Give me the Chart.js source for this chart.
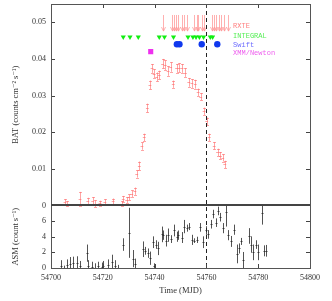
<!DOCTYPE html>
<html>
<head>
<meta charset="utf-8">
<script src="https://cdn.jsdelivr.net/npm/chart.js@4.4.1/dist/chart.umd.min.js"></script>
<style>
  html, body { margin: 0; padding: 0; background: #fff; }
  #wrap { width: 332px; height: 301px; }
</style>
</head>
<body>
<div id="wrap"><canvas id="lc" width="332" height="301"></canvas></div>
<script>
// BAT light curve (MJD, rate, error)
var batT = [54705.4, 54706.1, 54711.2, 54714.2, 54716.1, 54717.0, 54718.9, 54720.8, 54724.0, 54727.3,
            54727.9, 54729.2, 54730.2, 54731.2, 54732.4, 54733.1, 54734.1, 54735.1, 54736.0, 54737.2,
            54738.2, 54739.0, 54739.8, 54740.8, 54741.8, 54743.1, 54744.1, 54745.2, 54746.2, 54747.2,
            54748.5, 54749.5, 54750.6, 54751.9, 54753.2, 54754.4, 54755.7, 54756.8, 54757.8, 54759.1,
            54760.1, 54761.1, 54763.0, 54764.3, 54765.4, 54766.3, 54767.1];
var batV = [0.0009, 0.0005, 0.0018, 0.0012, 0.0012, 0.0005, 0.0006, 0.0009, 0.0011, 0.0005,
            0.0018, 0.0015, 0.0022, 0.0032, 0.0039, 0.0086, 0.0108, 0.0162, 0.0186, 0.0266,
            0.0329, 0.0374, 0.0360, 0.0351, 0.0356, 0.0387, 0.0383, 0.0367, 0.0378, 0.0331,
            0.0374, 0.0376, 0.0374, 0.0363, 0.0336, 0.0333, 0.0331, 0.0309, 0.0297, 0.0257,
            0.0230, 0.0186, 0.0163, 0.0145, 0.0136, 0.0130, 0.0112];
var batE = [0.0008, 0.0007, 0.0019, 0.0009, 0.0011, 0.0009, 0.0007, 0.0008, 0.0008, 0.0007,
            0.0008, 0.0008, 0.0008, 0.0009, 0.0010, 0.0010, 0.0012, 0.0010, 0.0010, 0.0012,
            0.0012, 0.0012, 0.0012, 0.0012, 0.0012, 0.0013, 0.0013, 0.0013, 0.0013, 0.0010,
            0.0012, 0.0012, 0.0012, 0.0012, 0.0012, 0.0012, 0.0012, 0.0010, 0.0010, 0.0010,
            0.0010, 0.0010, 0.0010, 0.0010, 0.0010, 0.0010, 0.0010];

// ASM light curve
var asmT = [54703.8, 54705.0, 54706.3, 54707.3, 54708.6, 54710.2, 54711.2, 54713.8, 54714.4, 54715.7,
            54717.0, 54718.3, 54719.6, 54720.2, 54722.1, 54723.4, 54724.7, 54726.0, 54727.7, 54730.2,
            54731.5, 54732.4, 54735.6, 54736.3, 54737.3, 54738.2, 54739.5, 54739.9, 54740.4, 54741.4,
            54742.7, 54743.4, 54744.3, 54745.3, 54746.3, 54747.6, 54748.5, 54749.2, 54750.5, 54751.5,
            54752.4, 54753.3, 54754.3, 54755.3, 54756.3, 54757.5, 54758.6, 54759.7, 54760.5, 54761.8,
            54762.7, 54763.7, 54764.4, 54765.3, 54766.5, 54767.6, 54768.2, 54769.5, 54770.5, 54771.7,
            54772.5, 54773.4, 54774.3, 54776.6, 54777.2, 54778.1, 54779.2, 54779.8, 54781.5, 54782.4,
            54783.0];
var asmV = [0.3, 0.0, 0.4, 0.5, 0.6, 0.6, 0.2, 1.9, 0.3, 0.1,
            0.0, 0.2, 0.1, 0.3, 0.4, 0.8, 0.3, 0.0, 3.0, 4.5,
            1.2, 0.5, 2.4, 2.2, 1.9, 1.25, 3.3, 0.3, 3.0, 2.5,
            4.3, 4.2, 3.5, 4.2, 3.7, 4.8, 4.0, 4.2, 3.9, 5.3,
            5.1, 5.3, 3.6, 3.5, 3.6, 5.2, 3.3, 4.8, 4.3, 5.6,
            6.9, 5.8, 7.3, 6.5, 5.1, 7.2, 4.2, 3.4, 4.9, 1.8,
            2.5, 3.4, 1.0, 4.1, 3.0, 2.0, 3.0, 2.0, 7.0, 2.2,
            2.2];
var asmE = [0.7, 0.3, 0.7, 0.9, 0.85, 0.9, 0.7, 1.1, 0.7, 0.7,
            0.6, 0.6, 0.6, 0.6, 0.7, 0.9, 0.7, 0.4, 0.8, 3.2,
            1.1, 0.7, 1.0, 0.5, 0.6, 0.85, 0.75, 0.3, 0.55, 0.85,
            1.0, 0.6, 0.75, 0.85, 0.5, 0.75, 0.65, 0.6, 0.7, 0.85,
            0.45, 0.45, 0.65, 0.3, 0.4, 0.55, 0.75, 0.55, 0.55, 0.55,
            0.55, 0.55, 0.55, 0.55, 0.65, 1.9, 0.65, 0.7, 0.65, 1.2,
            0.65, 0.45, 1.05, 1.0, 1.05, 1.0, 0.55, 1.0, 1.45, 0.7,
            0.75];

// pointed observations
var rxteT = [54743.1, 54746.7, 54747.6, 54748.3, 54749.0, 54750.6, 54751.5, 54752.5, 54755.3, 54756.3,
             54756.9, 54758.3, 54759.0, 54762.2, 54763.0, 54763.7, 54765.0, 54765.6, 54766.9, 54768.5];
var integralT = [54727.9, 54730.5, 54733.7, 54741.8, 54743.8, 54747.3, 54752.9, 54754.8, 54756.0,
                 54757.3, 54758.9, 54761.5, 54762.4];
var swiftT = [54748.6, 54749.6, 54758.2, 54764.2];
var xmmT = [54738.5];

var rxteTop = 0.0520, rxteBottom = 0.0476;
var integralLevel = 0.0460, swiftLevel = 0.0440, xmmLevel = 0.0420;
var markMJD = 54760;

var xTicks = [54700, 54720, 54740, 54760, 54780, 54800];
var batTicks = [0, 0.01, 0.02, 0.03, 0.04, 0.05];
var asmTicks = [0, 2, 4, 6];

var legendNames = ['RXTE', 'INTEGRAL', 'Swift', 'XMM/Newton'];
var legendColors = ['#ff8080', '#55ee55', '#6b6bff', '#ee60ee'];

var serif = "'Liberation Serif', 'DejaVu Serif', serif";
var ink = '#333';

function pts(ts, vs) {
    return ts.map(function(t, i) { return {x: t, y: Array.isArray(vs) ? vs[i] : vs}; });
}

var decor = {
    id: 'decor',
    afterDatasetsDraw: function(chart) {
        var ctx = chart.ctx, a = chart.chartArea;
        var x = chart.scales.x, yb = chart.scales.yBat, ya = chart.scales.yAsm;
        var r = function(v) { return Math.round(v) + 0.5; };
        ctx.save();

        // BAT error bars
        ctx.strokeStyle = 'rgba(255,105,105,0.6)';
        ctx.lineWidth = 1;
        batT.forEach(function(t, i) {
            var px = r(x.getPixelForValue(t));
            var py = r(yb.getPixelForValue(batV[i]));
            var y1 = yb.getPixelForValue(batV[i] - batE[i]);
            var y2 = yb.getPixelForValue(batV[i] + batE[i]);
            var x1 = x.getPixelForValue(t - 0.55), x2 = x.getPixelForValue(t + 0.55);
            ctx.beginPath();
            ctx.moveTo(px, y1); ctx.lineTo(px, y2);
            ctx.moveTo(x1, py); ctx.lineTo(x2, py);
            ctx.moveTo(px - 1.5, r(y1)); ctx.lineTo(px + 1.5, r(y1));
            ctx.moveTo(px - 1.5, r(y2)); ctx.lineTo(px + 1.5, r(y2));
            ctx.stroke();
        });

        // RXTE arrows
        ctx.strokeStyle = 'rgba(255,150,150,0.75)';
        var ytop = yb.getPixelForValue(rxteTop), ybot = yb.getPixelForValue(rxteBottom);
        rxteT.forEach(function(t) {
            var px = r(x.getPixelForValue(t));
            ctx.beginPath();
            ctx.moveTo(px, ytop); ctx.lineTo(px, ybot);
            ctx.moveTo(px - 2, ybot - 4); ctx.lineTo(px, ybot); ctx.lineTo(px + 2, ybot - 4);
            ctx.stroke();
        });

        // ASM bars, clipped to lower panel
        ctx.save();
        ctx.beginPath();
        ctx.rect(a.left, ya.top, a.right - a.left, ya.bottom - ya.top);
        ctx.clip();
        ctx.strokeStyle = 'rgba(40,40,40,0.8)';
        asmT.forEach(function(t, i) {
            var px = r(x.getPixelForValue(t));
            var y1 = ya.getPixelForValue(asmV[i] - asmE[i]);
            var y2 = ya.getPixelForValue(asmV[i] + asmE[i]);
            var yc = r(ya.getPixelForValue(asmV[i]));
            ctx.beginPath();
            ctx.moveTo(px, y1); ctx.lineTo(px, y2);
            ctx.moveTo(px - 1, yc); ctx.lineTo(px + 1, yc);
            ctx.stroke();
        });
        ctx.restore();

        // dashed marker line
        var mx = r(x.getPixelForValue(markMJD));
        ctx.strokeStyle = '#222';
        ctx.setLineDash([4, 3]);
        ctx.beginPath();
        ctx.moveTo(mx, a.top); ctx.lineTo(mx, a.bottom);
        ctx.stroke();
        ctx.setLineDash([]);

        // inward ticks
        ctx.strokeStyle = '#444';
        xTicks.forEach(function(v) {
            var px = r(x.getPixelForValue(v));
            ctx.beginPath();
            ctx.moveTo(px, a.bottom); ctx.lineTo(px, a.bottom - 4);
            ctx.moveTo(px, a.top); ctx.lineTo(px, a.top + 4);
            ctx.stroke();
        });
        batTicks.forEach(function(v) {
            var py = r(yb.getPixelForValue(v));
            ctx.beginPath();
            ctx.moveTo(a.left, py); ctx.lineTo(a.left + 4, py);
            ctx.moveTo(a.right, py); ctx.lineTo(a.right - 4, py);
            ctx.stroke();
        });
        asmTicks.forEach(function(v) {
            var py = r(ya.getPixelForValue(v));
            ctx.beginPath();
            ctx.moveTo(a.left, py); ctx.lineTo(a.left + 4, py);
            ctx.moveTo(a.right, py); ctx.lineTo(a.right - 4, py);
            ctx.stroke();
        });

        // frame and panel separator
        ctx.strokeStyle = '#555';
        ctx.lineWidth = 1;
        ctx.strokeRect(r(a.left), r(a.top), Math.round(a.right - a.left), Math.round(a.bottom - a.top));
        ctx.strokeStyle = '#444';
        ctx.lineWidth = 2;
        var sy = Math.round(yb.getPixelForValue(0));
        ctx.beginPath();
        ctx.moveTo(a.left, sy); ctx.lineTo(a.right, sy);
        ctx.stroke();

        // legend text
        ctx.font = "7px 'Liberation Mono', 'DejaVu Sans Mono', monospace";
        ctx.textBaseline = 'middle';
        ctx.textAlign = 'left';
        var lx = x.getPixelForValue(54770.3);
        var ly = [0.0489, 0.0461, 0.0438, 0.0415];
        legendNames.forEach(function(n, i) {
            ctx.fillStyle = legendColors[i];
            ctx.fillText(n, lx, yb.getPixelForValue(ly[i]));
        });
        ctx.restore();
    }
};

var tickFont = {family: serif, size: 8};
var noPad = function(s) { s.paddingTop = 0; s.paddingBottom = 0; s.paddingLeft = 0; s.paddingRight = 0; };

new Chart(document.getElementById('lc'), {
    type: 'scatter',
    data: {
        datasets: [
            {label: 'BAT', data: pts(batT, batV), yAxisID: 'yBat', pointRadius: 0},
            {label: 'INTEGRAL', data: pts(integralT, integralLevel), yAxisID: 'yBat',
             pointStyle: 'triangle', rotation: 180, pointRadius: 3, backgroundColor: '#11ee11', borderWidth: 0},
            {label: 'Swift', data: pts(swiftT, swiftLevel), yAxisID: 'yBat',
             pointStyle: 'circle', pointRadius: 3.2, backgroundColor: '#1038ee', borderWidth: 0},
            {label: 'XMM/Newton', data: pts(xmmT, xmmLevel), yAxisID: 'yBat',
             pointStyle: 'rect', pointRadius: 3.6, backgroundColor: '#ee30ee', borderWidth: 0},
            {label: 'ASM', data: pts(asmT, asmV), yAxisID: 'yAsm', pointRadius: 0}
        ]
    },
    plugins: [decor],
    options: {
        responsive: false,
        animation: false,
        layout: {padding: {left: 0, right: 22, top: 2, bottom: 0}},
        plugins: {legend: {display: false}, tooltip: {enabled: false}},
        scales: {
            x: {
                type: 'linear', position: 'bottom', min: 54700, max: 54800,
                grid: {display: false, drawTicks: false}, border: {display: false},
                afterBuildTicks: function(s) { s.ticks = xTicks.map(function(v) { return {value: v}; }); },
                afterFit: function(s) { s.height = 33; noPad(s); },
                ticks: {font: tickFont, color: ink, padding: 5, maxRotation: 0, autoSkip: false,
                        callback: function(v) { return String(v); }},
                title: {display: true, text: 'Time (MJD)', font: {family: serif, size: 8.5}, color: ink,
                        padding: {top: 0, bottom: 5}}
            },
            yAsm: {
                type: 'linear', position: 'left', stack: 'panels', stackWeight: 63, weight: 1,
                min: 0, max: 8,
                grid: {display: false, drawTicks: false}, border: {display: false},
                afterBuildTicks: function(s) { s.ticks = asmTicks.map(function(v) { return {value: v}; }); },
                afterFit: function(s) { s.width = 51; noPad(s); },
                ticks: {font: tickFont, color: ink, padding: 5, autoSkip: false,
                        callback: function(v) { return String(v); }},
                title: {display: true, text: 'ASM (count s\u207B\u00B9)', font: {family: serif, size: 8.5}, color: ink,
                        padding: {top: 11, bottom: 0}}
            },
            yBat: {
                type: 'linear', position: 'left', stack: 'panels', stackWeight: 203, weight: 2,
                min: 0, max: 0.055,
                grid: {display: false, drawTicks: false}, border: {display: false},
                afterBuildTicks: function(s) { s.ticks = batTicks.map(function(v) { return {value: v}; }); },
                afterFit: function(s) { s.width = 51; noPad(s); },
                ticks: {font: tickFont, color: ink, padding: 5, autoSkip: false,
                        callback: function(v) { return String(v); }},
                title: {display: true, text: 'BAT (counts cm\u207B\u00B2 s\u207B\u00B9)', font: {family: serif, size: 8.5}, color: ink,
                        padding: {top: 11, bottom: 0}}
            }
        }
    }
});
</script>
</body>
</html>
